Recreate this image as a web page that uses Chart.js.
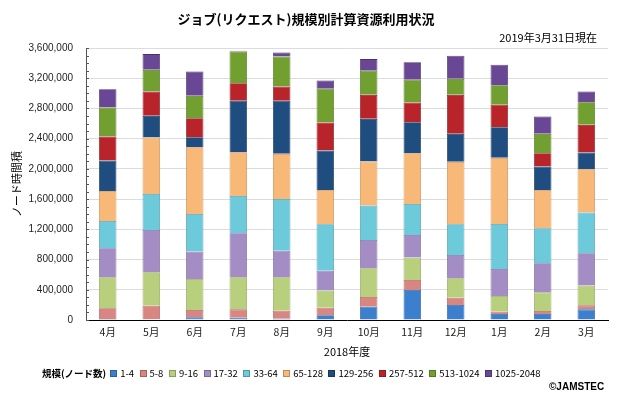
<!DOCTYPE html>
<html>
<head>
<meta charset="utf-8">
<script src="https://cdn.jsdelivr.net/npm/chart.js@4/dist/chart.umd.min.js"></script>
<style>
html,body{margin:0;padding:0;background:#fff;}
#wrap{position:relative;width:640px;height:395px;overflow:hidden;}
#c{position:absolute;left:0;top:0;}
.t{position:absolute;white-space:nowrap;color:#000;}
#title{left:0;width:612px;top:9px;text-align:center;font:bold 13px "Noto Sans CJK JP",sans-serif;}
#sub{right:43px;top:29px;font:11px "Noto Sans CJK JP",sans-serif;}
#legend{left:42px;top:366px;display:flex;align-items:center;font:9.5px "Noto Sans CJK JP",sans-serif;color:#000;}
#legend .lab{font-weight:bold;margin-right:4px;}
#legend .it{display:flex;align-items:center;margin-right:5.5px;}
#legend .bx{width:7px;height:7px;margin-right:3px;box-sizing:border-box;border:1px solid rgba(0,0,0,0.25);}
#copy{left:549px;top:381px;font:bold 10px "Liberation Sans",Arial,sans-serif;}
</style>
</head>
<body>
<div id="wrap">
<canvas id="c" width="640" height="395"></canvas>
<div class="t" id="title">ジョブ(リクエスト)規模別計算資源利用状況</div>
<div class="t" id="sub">2019年3月31日現在</div>
<div class="t" id="legend"></div>
<div class="t" id="copy">©JAMSTEC</div>
</div>
<script>
const months = ["4月","5月","6月","7月","8月","9月","10月","11月","12月","1月","2月","3月"];
const sizeLabels = ["1-4","5-8","9-16","17-32","33-64","65-128","129-256","257-512","513-1024","1025-2048"];
const yTickValues = [0,400000,800000,1200000,1600000,2000000,2400000,2800000,3200000,3600000];

const s1_4      = [13000, 9000, 35000, 31000, 18000, 62000, 177000, 397000, 199000, 79000, 79000, 141000];
const s5_8      = [142000, 181000, 97000, 110000, 106000, 101000, 128000, 133000, 97000, 31000, 40000, 53000];
const s9_16     = [410000, 441000, 411000, 424000, 441000, 226000, 379000, 296000, 256000, 208000, 247000, 261000];
const s17_32    = [384000, 561000, 362000, 583000, 353000, 264000, 376000, 300000, 309000, 357000, 385000, 428000];
const s33_64    = [362000, 477000, 499000, 494000, 685000, 614000, 454000, 410000, 406000, 597000, 463000, 539000];
const s65_128   = [398000, 746000, 883000, 579000, 596000, 455000, 583000, 672000, 826000, 874000, 508000, 574000];
const s129_256  = [401000, 287000, 132000, 680000, 702000, 521000, 565000, 410000, 371000, 406000, 309000, 220000];
const s257_512  = [318000, 322000, 252000, 234000, 190000, 371000, 318000, 261000, 516000, 296000, 177000, 367000];
const s513_1024 = [384000, 287000, 296000, 418000, 397000, 446000, 318000, 300000, 212000, 260000, 256000, 300000];
const s1025_2048= [243000, 208000, 322000, 10000, 53000, 110000, 155000, 234000, 305000, 270000, 229000, 141000];

const seriesValues = [s1_4, s5_8, s9_16, s17_32, s33_64, s65_128, s129_256, s257_512, s513_1024, s1025_2048];
const colors = ["#3d7fcf","#d98682","#b8d07e","#a48dc4","#6ccadb","#f8b878","#1f4d80","#b8242a","#71a030","#6a4794"];
const borders = ["#2a5f9e","#a85f5b","#8ea35a","#7b6898","#4a9aab","#c98c52","#143659","#861a1f","#507520","#4a3169"];

const datasets = sizeLabels.map((lab,i)=>({
  label: lab,
  data: seriesValues[i],
  backgroundColor: colors[i],
  borderColor: borders[i],
  borderWidth: 0.8,
  barPercentage: 0.4,
  categoryPercentage: 1.0
}));

const minorTicks = {
  id: 'minorTicks',
  afterDraw(chart){
    const y = chart.scales.y, ctx = chart.ctx, left = chart.chartArea.left;
    ctx.save();
    ctx.strokeStyle = '#555';
    ctx.lineWidth = 1;
    for(let v=0; v<=3600000; v+=100000){
      const py = Math.round(y.getPixelForValue(v))+0.5;
      ctx.beginPath(); ctx.moveTo(left, py); ctx.lineTo(left+3, py); ctx.stroke();
    }
    ctx.restore();
  }
};

new Chart(document.getElementById('c'), {
  type: 'bar',
  data: { labels: months, datasets },
  options: {
    responsive: false,
    animation: false,
    layout: { padding: { top: 48, right: 32, bottom: 35, left: 0 } },
    plugins: { legend: { display: false }, title: { display: false }, tooltip: { enabled: false } },
    scales: {
      x: {
        stacked: true,
        afterFit(s){ s.height = 40; },
        grid: { display: false, drawTicks: false },
        border: { color: '#000', width: 1 },
        ticks: { color: '#222', font: { family: '"Noto Sans CJK JP", sans-serif', size: 10.5 }, padding: 6 },
        title: { display: true, text: '2018年度', color: '#000', font: { family: '"Noto Sans CJK JP", sans-serif', size: 11 }, padding: { top: 0, bottom: 2 } }
      },
      y: {
        stacked: true,
        min: 0, max: 3600000,
        afterFit(s){ s.width = 86; },
        afterBuildTicks(s){ s.ticks = yTickValues.map(v=>({value:v})); },
        grid: { color: '#dcdcdc', lineWidth: 1, drawTicks: false },
        border: { color: '#555', width: 1 },
        ticks: {
          color: '#222',
          padding: 13,
          font: { family: '"Liberation Sans", Arial, sans-serif', size: 10 },
          callback: (v)=> Number(v).toLocaleString('en-US')
        },
        title: { display: true, text: 'ノード時間積', color: '#000', font: { family: '"Noto Sans CJK JP", sans-serif', size: 11 }, padding: { top: 10, bottom: 0 } }
      }
    }
  },
  plugins: [minorTicks]
});

const leg = document.getElementById('legend');
const lab = document.createElement('span'); lab.className='lab'; lab.textContent='規模(ノード数)'; leg.appendChild(lab);
sizeLabels.forEach((s,i)=>{
  const it = document.createElement('span'); it.className='it';
  const bx = document.createElement('span'); bx.className='bx'; bx.style.background=colors[i];
  const tx = document.createElement('span'); tx.textContent=s;
  it.appendChild(bx); it.appendChild(tx); leg.appendChild(it);
});
</script>
</body>
</html>
